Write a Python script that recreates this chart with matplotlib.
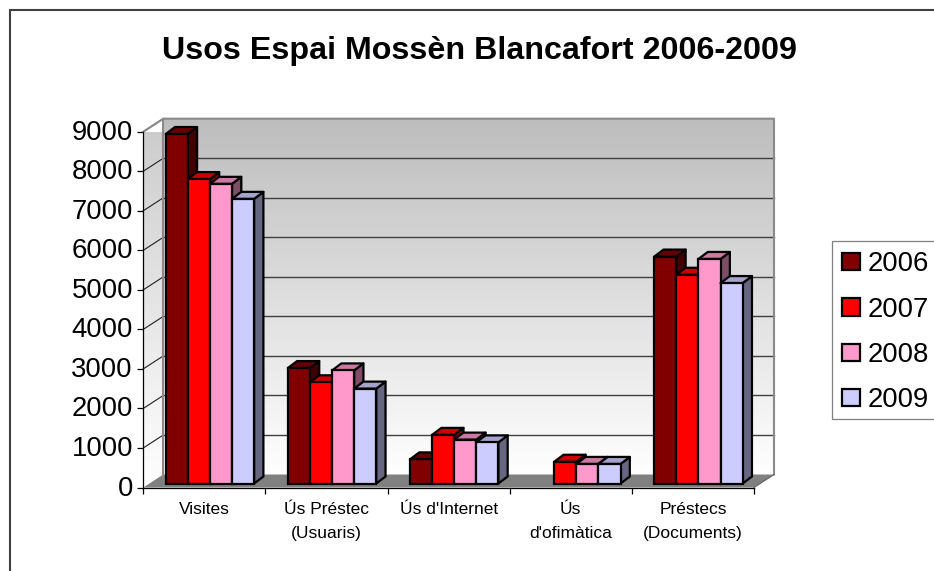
import numpy as np
import matplotlib
matplotlib.use("Agg")
import matplotlib.pyplot as plt
from matplotlib.colors import to_rgb, LinearSegmentedColormap
from matplotlib.patches import Patch, Polygon, Rectangle
from matplotlib.transforms import ScaledTranslation

# --- data ----------------------------------------------------------------

categories = ["Visites", "Ús Préstec\n(Usuaris)", "Ús d'Internet", "Ús\nd'ofimàtica", "Préstecs\n(Documents)"]
years = ["2006", "2007", "2008", "2009"]
values_2006 = [8840, 2920, 610, 0, 5740]
values_2007 = [7700, 2560, 1230, 550, 5280]
values_2008 = [7580, 2860, 1110, 495, 5680]
values_2009 = [7200, 2400, 1040, 495, 5070]
yticks = [0, 1000, 2000, 3000, 4000, 5000, 6000, 7000, 8000, 9000]

colors = ["#800000", "#ff0000", "#ff99cc", "#ccccff"]

# --- layout (pixels of the 934x571 picture) ------------------------------

W, H = 934, 571
LEFT, RIGHT, BOTTOM, TOP = 143.3, 754.0, 487.5, 131.7
PX_X = 5 / (RIGHT - LEFT)
PX_Y = 9000 / (BOTTOM - TOP)

WALL_DX, WALL_DY = 20 * PX_X, 13 * PX_Y
BAR_DX, BAR_DY = 9.3 * PX_X, 7 * PX_Y
BAR_W = 22.1 * PX_X
BAR_START = 22.4 * PX_X
BAR_BASE = 4 * PX_Y

FONT = "Liberation Sans"
EDGE = 1.6


def shade(color, k):
    return tuple(c * k for c in to_rgb(color))


def draw_walls(ax):
    cmap = LinearSegmentedColormap.from_list("wall", ["#ffffff", "#bdbdbd"])
    grad = np.linspace(0, 1, 256).reshape(-1, 1)

    back = ax.imshow(grad, origin="lower", cmap=cmap, aspect="auto", zorder=1,
                     extent=(WALL_DX, 5 + WALL_DX, WALL_DY, 9000 + WALL_DY))
    back.set_clip_on(False)

    side_cmap = LinearSegmentedColormap.from_list("side", ["#ffffff", "#cbcbcb"])
    side = ax.imshow(grad, origin="lower", cmap=side_cmap, aspect="auto", zorder=1,
                     extent=(0, WALL_DX, 0, 9000 + WALL_DY))
    clip = Polygon([(0, 0), (WALL_DX, WALL_DY), (WALL_DX, 9000 + WALL_DY), (0, 9000)],
                   transform=ax.transData, fill=False, edgecolor="none")
    ax.add_patch(clip)
    side.set_clip_path(clip)

    ax.add_patch(Polygon([(0, 0), (5, 0), (5 + WALL_DX, WALL_DY), (WALL_DX, WALL_DY)],
                         facecolor="#808080", edgecolor="none", zorder=2, clip_on=False))

    for v in yticks[1:-1]:
        ax.plot([WALL_DX, 5 + WALL_DX], [v + WALL_DY] * 2, color="#404040", lw=1.0,
                zorder=2, clip_on=False)
    for v in yticks[1:]:
        ax.plot([0, WALL_DX], [v, v + WALL_DY], color="#202020", lw=0.8, zorder=2, clip_on=False)

    # wall outline
    ax.plot([0, WALL_DX, 5 + WALL_DX, 5 + WALL_DX],
            [9000, 9000 + WALL_DY, 9000 + WALL_DY, WALL_DY],
            color="#8a8a8a", lw=1.5, zorder=2, clip_on=False)
    ax.plot([WALL_DX, WALL_DX], [WALL_DY, 9000 + WALL_DY], color="#8a8a8a", lw=1.5,
            zorder=2, clip_on=False)
    ax.plot([5, 5 + WALL_DX], [0, WALL_DY], color="#606060", lw=0.8, zorder=2, clip_on=False)


def draw_bars(ax, series):
    z = 3
    for i in range(len(categories)):
        for j, vals in enumerate(series):
            v = vals[i]
            if v == 0:
                continue
            x0 = i + BAR_START + j * BAR_W
            x1 = x0 + BAR_W
            y0, y1 = BAR_BASE, BAR_BASE + v
            style = dict(edgecolor="black", lw=EDGE, joinstyle="round", zorder=z, clip_on=False)
            ax.add_patch(Polygon([(x1, y0), (x1 + BAR_DX, y0 + BAR_DY), (x1 + BAR_DX, y1 + BAR_DY), (x1, y1)],
                                 facecolor=shade(colors[j], 0.5), **style))
            ax.add_patch(Polygon([(x0, y1), (x1, y1), (x1 + BAR_DX, y1 + BAR_DY), (x0 + BAR_DX, y1 + BAR_DY)],
                                 facecolor=shade(colors[j], 0.8), **style))
            ax.bar(x0, v, width=BAR_W, bottom=y0, align="edge", color=colors[j],
                   edgecolor="black", linewidth=EDGE, zorder=z, clip_on=False)
            z += 0.01


def main():
    fig = plt.figure(figsize=(W / 100, H / 100), dpi=100, facecolor="white")
    ax = fig.add_axes([LEFT / W, 1 - BOTTOM / H, (RIGHT - LEFT) / W, (BOTTOM - TOP) / H])
    ax.patch.set_visible(False)

    draw_walls(ax)
    draw_bars(ax, [values_2006, values_2007, values_2008, values_2009])

    ax.set_xlim(0, 5)
    ax.set_ylim(0, 9000)
    for name in ("top", "right"):
        ax.spines[name].set_visible(False)
    for name in ("left", "bottom"):
        ax.spines[name].set_linewidth(0.9)
        ax.spines[name].set_zorder(5)

    ax.set_yticks(yticks)
    ax.set_yticklabels([str(v) for v in yticks], fontsize=19.8, family=FONT)
    ax.tick_params(axis="y", length=4.5, width=0.9, pad=3)
    # labels sit a little above their ticks in the original
    lift = ScaledTranslation(0, 2 / 100, fig.dpi_scale_trans)
    for label in ax.get_yticklabels():
        label.set_transform(label.get_transform() + lift)

    ax.set_xticks(range(6))
    ax.set_xticklabels([])
    ax.tick_params(axis="x", length=4.5, width=0.9)
    ax.set_xticks(np.arange(5) + 0.5, minor=True)
    ax.set_xticklabels(categories, minor=True, fontsize=12.5, family=FONT, linespacing=1.72)
    ax.tick_params(axis="x", which="minor", length=0, pad=10.5)

    fig.text(479.5 / W, 1 - 59.5 / H, "Usos Espai Mossèn Blancafort 2006-2009", ha="center", va="baseline",
             fontsize=23.2, fontweight="bold", family=FONT)

    # chart frame: only the top and left edges fall inside the picture
    fig.add_artist(Rectangle((10 / W, -0.05), 1.1, 1 - 10 / H + 0.05, transform=fig.transFigure,
                             fill=False, edgecolor="#404040", lw=1.5))

    # legend frame runs off the right edge of the picture
    fig.add_artist(Rectangle((832 / W, 1 - 419 / H), 0.2, 178 / H, transform=fig.transFigure,
                             facecolor="white", edgecolor="#808080", lw=0.9))
    handles = [Patch(facecolor=c, edgecolor="black", lw=EDGE) for c in colors]
    fig.legend(handles, years, loc="upper left", bbox_to_anchor=(832 / W, 1 - 241 / H),
               bbox_transform=fig.transFigure, borderaxespad=0, frameon=False,
               prop={"family": FONT, "size": 19.8},
               handlelength=0.63, handleheight=0.6, handletextpad=0.3,
               labelspacing=0.7, borderpad=0.38)

    fig.savefig("out.png", dpi=100)
    plt.close(fig)


if __name__ == "__main__":
    main()
